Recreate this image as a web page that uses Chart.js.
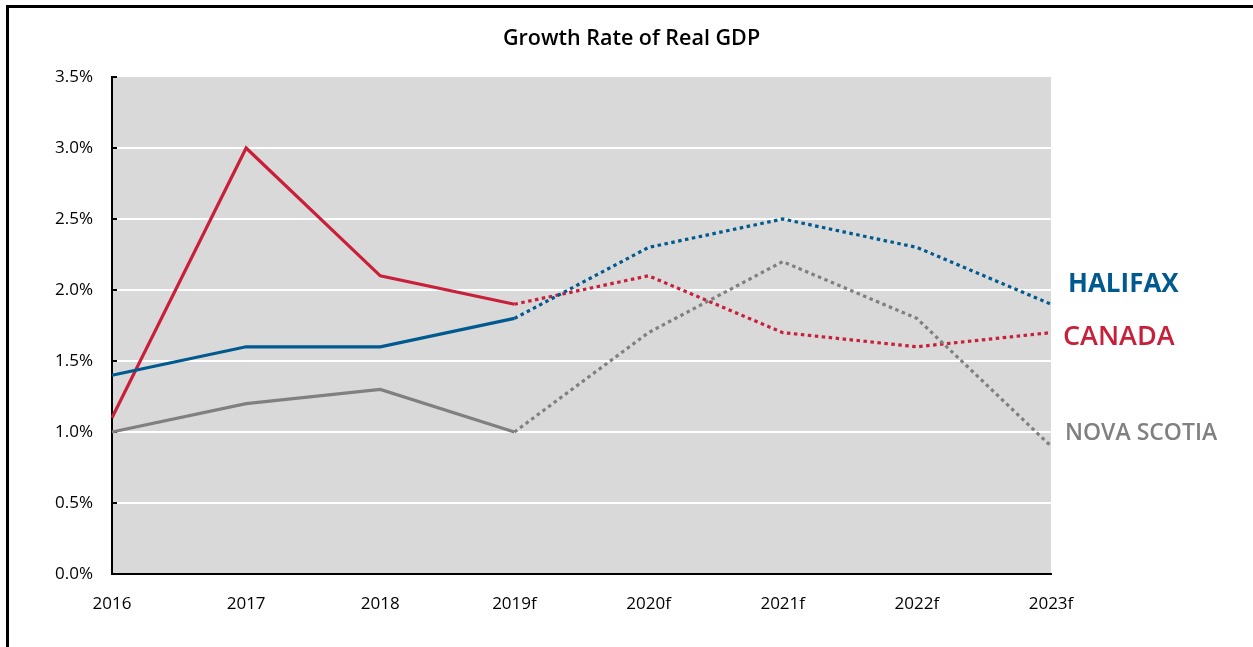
<!DOCTYPE html>
<html>
<head>
<meta charset="utf-8">
<script src="https://cdn.jsdelivr.net/npm/chart.js@4/dist/chart.umd.min.js"></script>
<style>
  html, body { margin: 0; padding: 0; background: #fff; }
  #wrap { position: relative; width: 1253px; height: 647px; overflow: hidden; }
  #frame { position: absolute; left: 6px; top: 5px; width: 2000px; height: 2000px;
           border-left: 3px solid #000; border-top: 3px solid #000; box-sizing: border-box; }
  canvas { position: absolute; left: 0; top: 0; }
</style>
</head>
<body>
<div id="wrap">
  <div id="frame"></div>
  <canvas id="c" width="1253" height="647"></canvas>
</div>
<script>
// ---- data ----
const categories = ['2016', '2017', '2018', '2019f', '2020f', '2021f', '2022f', '2023f'];
const halifax    = [1.4, 1.6, 1.6, 1.8, 2.3, 2.5, 2.3, 1.9];
const canada     = [1.1, 3.0, 2.1, 1.9, 2.1, 1.7, 1.6, 1.7];
const novaScotia = [1.0, 1.2, 1.3, 1.0, 1.7, 2.2, 1.8, 0.9];
const seriesNames = ['HALIFAX', 'CANADA', 'NOVA SCOTIA'];
const forecastStart = 3; // index of first forecast category (2019f)
const yTicks = [0, 0.5, 1.0, 1.5, 2.0, 2.5, 3.0, 3.5];
const chartTitle = 'Growth Rate of Real GDP';

// ---- styles ----
const colors = ['#005A8F', '#C8203A', '#808080'];
const labelStyle = [
  { dx: 17, dy: -20, font: '700 26px "Open Sans"' },
  { dx: 12, dy: 5,   font: '600 27px "Open Sans"' },
  { dx: 14, dy: -13, font: '600 23px "Open Sans"' }
];

const seriesData = [halifax, canada, novaScotia];

function mkDataset(i) {
  return {
    label: seriesNames[i],
    data: seriesData[i],
    borderColor: colors[i],
    backgroundColor: colors[i],
    borderWidth: 3.2,
    pointRadius: 0,
    pointHoverRadius: 0,
    tension: 0,
    borderCapStyle: 'butt',
    segment: {
      borderDash: ctx => ctx.p0DataIndex >= forecastStart ? [3.5, 3.5] : []
    }
  };
}

const bgPlugin = {
  id: 'plotBg',
  beforeDraw(chart) {
    const { ctx, chartArea: a } = chart;
    ctx.save();
    ctx.fillStyle = '#D9D9D9';
    ctx.fillRect(a.left, a.top, a.right - a.left, a.bottom - a.top);
    ctx.restore();
  }
};

const titlePlugin = {
  id: 'pageTitle',
  afterDraw(chart) {
    const { ctx } = chart;
    ctx.save();
    ctx.font = '600 21.5px "Open Sans"';
    ctx.fillStyle = '#000';
    ctx.textAlign = 'center';
    ctx.textBaseline = 'middle';
    ctx.fillText(chartTitle, chart.width / 2 + 5, 39);
    ctx.restore();
  }
};

const innerTicks = {
  id: 'innerTicks',
  beforeDatasetsDraw(chart) {
    const { ctx, chartArea: a } = chart;
    const ys = chart.scales.y;
    ctx.save();
    ctx.strokeStyle = '#000';
    ctx.lineWidth = 2;
    ys.ticks.forEach(t => {
      const y = Math.round(ys.getPixelForValue(t.value));
      ctx.beginPath();
      ctx.moveTo(a.left, y);
      ctx.lineTo(a.left + 5, y);
      ctx.stroke();
    });
    ctx.restore();
  }
};

const endLabels = {
  id: 'endLabels',
  afterDatasetsDraw(chart) {
    const { ctx, chartArea: a } = chart;
    const ys = chart.scales.y;
    ctx.save();
    ctx.textAlign = 'left';
    ctx.textBaseline = 'middle';
    seriesNames.forEach((name, i) => {
      const d = seriesData[i];
      const y = ys.getPixelForValue(d[d.length - 1]) + labelStyle[i].dy;
      ctx.font = labelStyle[i].font;
      ctx.fillStyle = colors[i];
      ctx.fillText(name, a.right + labelStyle[i].dx, y);
    });
    ctx.restore();
  }
};

new Chart(document.getElementById('c'), {
  type: 'line',
  data: {
    labels: categories,
    datasets: [mkDataset(2), mkDataset(0), mkDataset(1)]
  },
  options: {
    responsive: false,
    animation: false,
    events: [],
    layout: { padding: { left: 0, right: 202, top: 77, bottom: 0 } },
    plugins: {
      legend: { display: false },
      tooltip: { enabled: false },
      title: { display: false }
    },
    scales: {
      x: {
        type: 'category',
        offset: false,
        grid: { display: false, drawTicks: false },
        border: { display: true, color: '#000', width: 2 },
        ticks: {
          color: '#000',
          font: { family: 'Open Sans', size: 17 },
          padding: 20,
          maxRotation: 0,
          autoSkip: false
        },
        afterFit(scale) { scale.height = 73; }
      },
      y: {
        min: 0,
        max: 3.5,
        afterBuildTicks(scale) { scale.ticks = yTicks.map(v => ({ value: v })); },
        grid: {
          drawTicks: false,
          color: ctx => (ctx.tick && (ctx.tick.value === 0 || ctx.tick.value === 3.5)) ? 'rgba(0,0,0,0)' : '#FFFFFF',
          lineWidth: 2
        },
        border: { display: true, color: '#000', width: 2 },
        ticks: {
          color: '#000',
          font: { family: 'Open Sans', size: 17 },
          padding: 19,
          callback: v => Number(v).toFixed(1) + '%'
        },
        afterFit(scale) { scale.width = 112; }
      }
    }
  },
  plugins: [bgPlugin, titlePlugin, innerTicks, endLabels]
});
</script>
</body>
</html>
